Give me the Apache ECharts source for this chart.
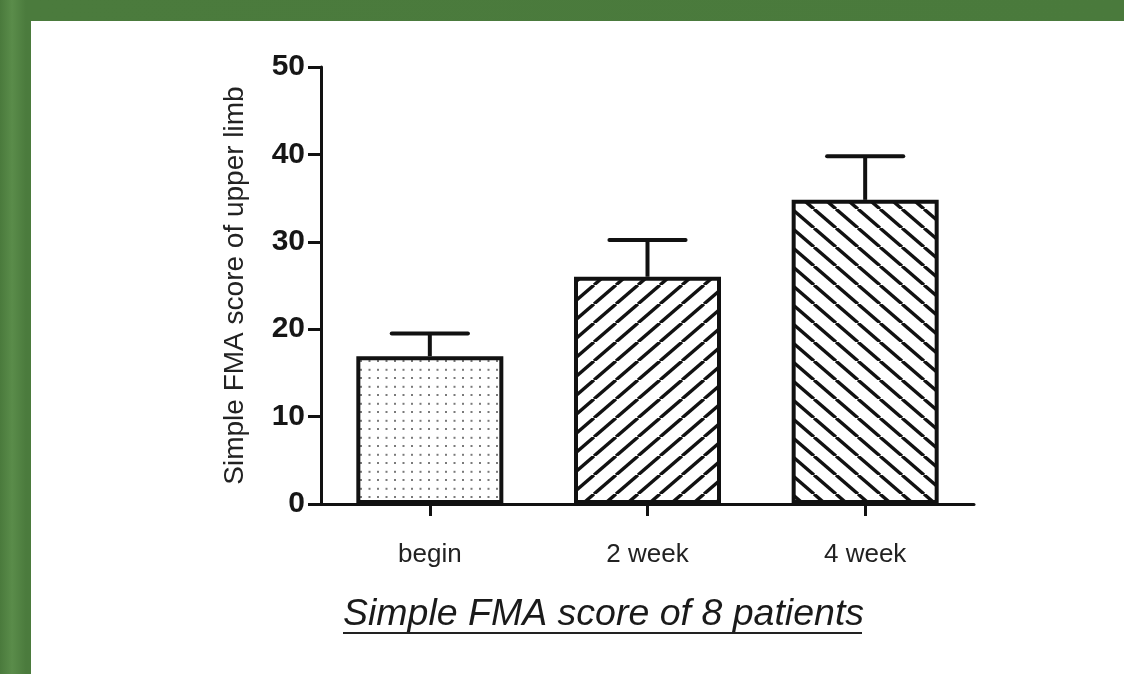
<!DOCTYPE html>
<html>
<head>
<meta charset="utf-8">
<script src="https://cdn.jsdelivr.net/npm/echarts@6/dist/echarts.min.js"></script>
<style>
  html, body { margin: 0; padding: 0; width: 1124px; height: 674px; overflow: hidden; }
  body { background: linear-gradient(90deg, #4a7a3c 0px, #5a8c4a 12px, #4b7b3d 26px, #4a7a3c 100%); position: relative; }
  #panel { position: absolute; left: 31px; top: 21px; width: 1093px; height: 653px; background: #ffffff; }
  #chart { position: absolute; left: 0; top: 0; width: 1124px; height: 674px; }
</style>
</head>
<body>
<div id="panel"></div>
<div id="chart"></div>
<script>
// ---- data ----
const categories = ['begin', '2 week', '4 week'];
const means = [16.9, 26.0, 34.8];
const errors = [2.6, 4.2, 5.0];
const yTicks = { min: 0, max: 50, interval: 10 };
const yAxisTitle = 'Simple FMA score of upper limb';
const chartTitle = 'Simple FMA score of 8 patients';

// ---- patterns ----
function dotPattern() {
  const c = document.createElement('canvas');
  c.width = 17; c.height = 17.6;
  const ctx = c.getContext('2d');
  ctx.fillStyle = '#ffffff';
  ctx.fillRect(0, 0, c.width, c.height);
  ctx.fillStyle = '#7a7a7a';
  for (let i = 0; i < 2; i++) for (let j = 0; j < 2; j++) {
    ctx.fillRect(i * 8.5 + 3, j * 8.8 + 3, 2, 2);
  }
  return c;
}
function hatchPattern(dir) {
  const w = 22, h = 19;
  const c = document.createElement('canvas');
  c.width = w; c.height = h;
  const ctx = c.getContext('2d');
  ctx.fillStyle = '#ffffff';
  ctx.fillRect(0, 0, w, h);
  ctx.strokeStyle = '#111111';
  ctx.lineWidth = 3.4;
  for (let k = -1; k <= 1; k++) {
    ctx.beginPath();
    if (dir === 'back') {
      ctx.moveTo(k * w, 0); ctx.lineTo(k * w + w, h);
    } else {
      ctx.moveTo(k * w, h); ctx.lineTo(k * w + w, 0);
    }
    ctx.stroke();
  }
  return c;
}
const fills = [
  { image: dotPattern(), repeat: 'repeat' },
  { image: hatchPattern('fwd'), repeat: 'repeat' },
  { image: hatchPattern('back'), repeat: 'repeat' }
];

const chart = echarts.init(document.getElementById('chart'), null, { renderer: 'canvas' });

const barData = means.map((v, i) => ({
  value: v,
  itemStyle: { color: fills[i], borderColor: '#111111', borderWidth: 4 }
}));
const errData = means.map((v, i) => [i, v, v + errors[i]]);

const FONT = '"Liberation Sans", Arial, Helvetica, sans-serif';

const option = {
  backgroundColor: 'transparent',
  animation: false,
  grid: { left: 321, top: 67, width: 653, height: 437, containLabel: false },
  xAxis: {
    type: 'category',
    data: categories,
    boundaryGap: true,
    axisLine: { lineStyle: { color: '#111111', width: 3 } },
    axisTick: { show: true, alignWithLabel: true, length: 12, lineStyle: { color: '#111111', width: 3 } },
    axisLabel: { color: '#222222', fontSize: 26, fontFamily: FONT, margin: 38 },
    splitLine: { show: false }
  },
  yAxis: {
    type: 'value',
    min: yTicks.min, max: yTicks.max, interval: yTicks.interval,
    name: yAxisTitle,
    nameLocation: 'middle',
    nameRotate: 90,
    nameGap: 72,
    nameTextStyle: { color: '#222222', fontSize: 28, fontFamily: FONT },
    axisLine: { show: true, lineStyle: { color: '#111111', width: 3 } },
    axisTick: { show: true, length: 13, lineStyle: { color: '#111111', width: 3 } },
    axisLabel: { color: '#161616', fontSize: 30, fontWeight: 'bold', fontFamily: FONT, margin: 16 },
    splitLine: { show: false }
  },
  series: [
    {
      type: 'bar',
      data: barData,
      barWidth: 147,
      z: 2
    },
    {
      type: 'custom',
      data: errData,
      z: 3,
      renderItem: function (params, api) {
        const x = api.value(0);
        const top = api.coord([x, api.value(2)]);
        const base = api.coord([x, api.value(1)]);
        const half = api.size([1, 0])[0] * 0.175;
        const style = { stroke: '#111111', lineWidth: 4 };
        return {
          type: 'group',
          children: [
            { type: 'line', shape: { x1: top[0], y1: base[1], x2: top[0], y2: top[1] }, style: style },
            { type: 'line', shape: { x1: top[0] - half, y1: top[1], x2: top[0] + half, y2: top[1] }, style: Object.assign({ lineCap: 'round' }, style) }
          ]
        };
      }
    }
  ],
  graphic: [
    {
      type: 'text',
      left: 343, top: 596,
      style: { text: chartTitle, fill: '#1a1a1a', font: 'italic 37.5px "Liberation Sans", Arial, sans-serif' }
    },
    {
      type: 'rect',
      shape: { x: 343, y: 632, width: 519, height: 2 },
      style: { fill: '#222222' }
    }
  ]
};
chart.setOption(option);
</script>
</body>
</html>
